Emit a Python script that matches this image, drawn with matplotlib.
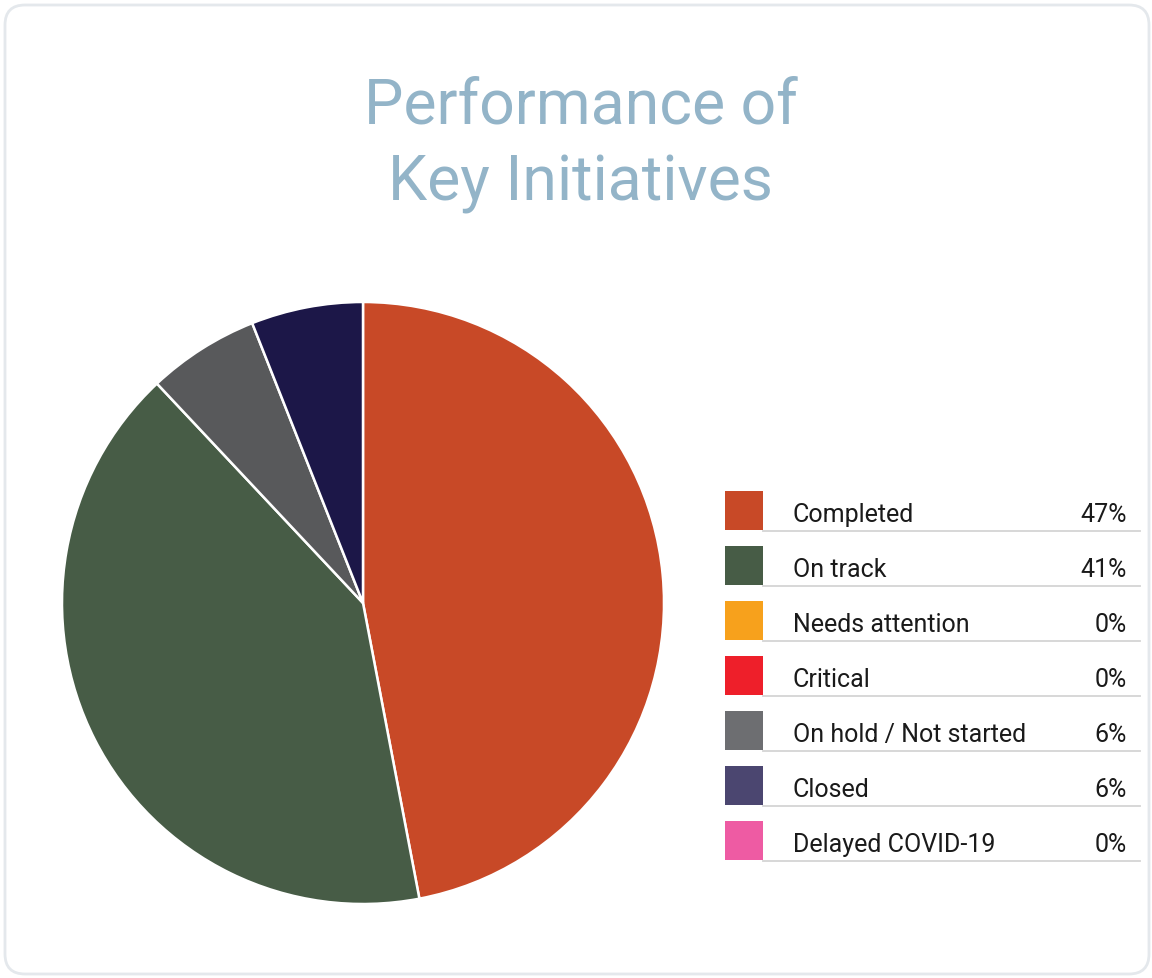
import matplotlib
matplotlib.use("Agg")
import matplotlib.pyplot as plt
from matplotlib.patches import FancyBboxPatch, Rectangle
from matplotlib import font_manager

categories = ["Completed", "On track", "Needs attention", "Critical",
              "On hold / Not started", "Closed", "Delayed COVID-19"]
shares = [47, 41, 0, 0, 6, 6, 0]
pct_labels = ["47%", "41%", "0%", "0%", "6%", "6%", "0%"]
legend_colors = ["#C84927", "#475C46", "#F7A11C", "#EE1F2A",
                 "#6D6E71", "#4B4670", "#EE5BA3"]
pie_colors = ["#C84927", "#475C46", "#F7A11C", "#EE1F2A",
              "#58595B", "#1C1748", "#EE5BA3"]
title_lines = ["Performance of", "Key Initiatives"]

W, H = 1152, 979
fig = plt.figure(figsize=(W / 100, H / 100), dpi=100)
fig.patch.set_facecolor("white")

names = {f.name for f in font_manager.fontManager.ttflist}
fam = "Roboto" if "Roboto" in names else "DejaVu Sans"

# background overlay axes in pixel coordinates
bg = fig.add_axes([0, 0, 1, 1])
bg.set_xlim(0, W)
bg.set_ylim(H, 0)
bg.axis("off")
bg.add_patch(FancyBboxPatch((5, 6), W - 8, H - 10,
                            boxstyle="round,pad=0,rounding_size=20",
                            facecolor="white", edgecolor="#E4E8EC", lw=2))

# title
for k, line in enumerate(title_lines):
    bg.text(581, 123 + 77 * k, line, ha="center", va="baseline", fontsize=45,
            color="#93B4C8", family=fam, fontweight="normal")

# pie
cx, cy, r = 363, 604, 301
pad = 1.03
pw = 2 * r * pad
ax = fig.add_axes([(cx - r * pad) / W, 1 - (cy + r * pad) / H, pw / W, pw / H])
nz = [i for i, c in enumerate(shares) if c > 0]
ax.pie([shares[i] for i in nz], colors=[pie_colors[i] for i in nz],
       startangle=90, counterclock=False, radius=1,
       wedgeprops=dict(edgecolor="white", linewidth=1.8))
ax.set_xlim(-pad, pad)
ax.set_ylim(-pad, pad)
ax.set_aspect("equal")
ax.axis("off")

# legend
x0, y0, step = 725, 492, 55
for i, (lab, pct, col) in enumerate(zip(categories, pct_labels, legend_colors)):
    top = y0 + i * step
    bg.add_patch(Rectangle((x0, top), 38, 39, facecolor=col, edgecolor="none"))
    bg.plot([x0 + 38, 1140], [top + 39.5, top + 39.5], color="#D4D4D4", lw=1.3)
    bg.text(793, top + 30, lab, ha="left", va="baseline", fontsize=18,
            color="#1A1A1A", family=fam, fontweight="normal")
    bg.text(1127, top + 30, pct, ha="right", va="baseline", fontsize=18,
            color="#1A1A1A", family=fam, fontweight="normal")

fig.savefig("out.png", dpi=100)
